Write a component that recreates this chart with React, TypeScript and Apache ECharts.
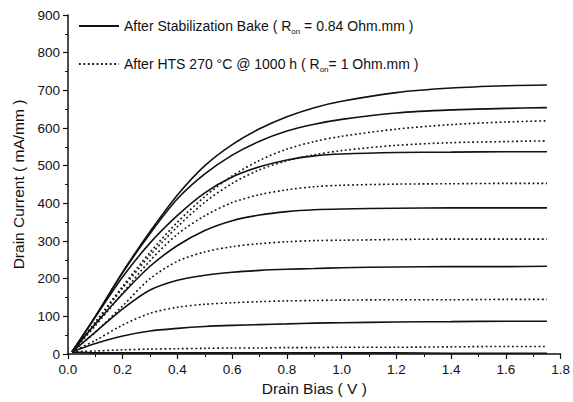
import React, { useEffect, useRef } from "react";
import * as echarts from "echarts";

const biasV = [0.015, 0.1, 0.2, 0.3, 0.4, 0.5, 0.6, 0.7, 0.8, 0.9, 1.0, 1.2, 1.4, 1.6, 1.75];

// After stabilization bake (solid)
const solid1 = [6, 100, 218, 325, 422, 500, 556, 598, 630, 654, 671, 694, 706, 712, 714];
const solid2 = [6, 100, 216, 320, 412, 478, 528, 565, 592, 610, 623, 640, 648, 652, 654];
const solid3 = [6, 98, 205, 295, 368, 428, 470, 497, 515, 526, 531, 535, 536, 537, 537];
const solid4 = [6, 80, 160, 233, 288, 328, 354, 369, 378, 383, 385, 387, 388, 388, 388];
const solid5 = [6, 58, 120, 170, 196, 209, 217, 222, 225, 227, 229, 231, 232, 232, 233];
const solid6 = [6, 28, 48, 61, 68, 73, 76, 78, 80, 82, 83, 85, 86, 87, 87];
const solid7 = [5, 3, 3, 3, 3, 3, 3, 3, 3, 3, 3, 3, 2, 2, 2];

// After HTS 270 °C @ 1000 h (dotted)
const dotted1 = [6, 85, 180, 270, 350, 418, 473, 514, 544, 564, 578, 597, 609, 616, 619];
const dotted2 = [6, 82, 175, 262, 338, 403, 453, 489, 513, 529, 540, 554, 561, 564, 566];
const dotted3 = [6, 75, 162, 248, 318, 367, 402, 423, 436, 444, 448, 451, 452, 453, 453];
const dotted4 = [6, 58, 128, 200, 246, 271, 285, 293, 298, 301, 302, 304, 305, 305, 305];
const dotted5 = [6, 36, 77, 108, 124, 132, 136, 139, 141, 142, 143, 144, 144, 145, 145];
const dotted6 = [6, 8, 11, 13, 14, 15, 16, 16, 17, 17, 18, 18, 19, 20, 20];

const solidSets = [solid1, solid2, solid3, solid4, solid5, solid6, solid7];
const dottedSets = [dotted1, dotted2, dotted3, dotted4, dotted5, dotted6];

const NAME_A = "After Stabilization Bake";
const NAME_B = "After HTS 270 °C @ 1000 h";

const FONT = "Liberation Sans";

export default function App() {
  const ref = useRef<HTMLDivElement>(null);
  useEffect(() => {
    if (!ref.current) return;
    const chart = echarts.init(ref.current, null, { renderer: "svg" });
    const mk = (vals: number[], name: string, dotted: boolean) => ({
      type: "line",
      name,
      data: biasV.map((x, i) => [x, vals[i]]),
      smooth: 0.3,
      symbol: "none",
      showSymbol: false,
      lineStyle: {
        color: "#111",
        width: 1.6,
        type: dotted ? [1.8, 2.6] : "solid",
      },
      itemStyle: { color: "#111" },
      z: 2,
    });
    const series: any[] = [
      ...solidSets.map((v) => mk(v, NAME_A, false)),
      ...dottedSets.map((v) => mk(v, NAME_B, true)),
    ];
    chart.setOption({
      animation: false,
      backgroundColor: "#fff",
      grid: { left: 68, right: 10, top: 15, bottom: 48, containLabel: false },
      legend: {
        orient: "vertical",
        left: 73,
        top: 12,
        itemWidth: 40,
        itemHeight: 14,
        itemGap: 20,
        selectedMode: false,
        itemStyle: { opacity: 0 },
        data: [NAME_A, NAME_B],
        formatter: (name: string) =>
          name === NAME_A
            ? "After Stabilization Bake ( R{sub|on} = 0.84 Ohm.mm )"
            : "After HTS 270 °C @ 1000 h ( R{sub|on}= 1 Ohm.mm )",
        textStyle: {
          fontFamily: FONT,
          fontSize: 14,
          color: "#111",
          lineHeight: 16,
          rich: {
            sub: {
              fontFamily: FONT,
              fontSize: 8,
              color: "#111",
              lineHeight: 18,
              verticalAlign: "bottom",
            },
          },
        },
      },
      xAxis: {
        type: "value",
        min: 0,
        max: 1.8,
        interval: 0.2,
        name: "Drain Bias ( V )",
        nameLocation: "middle",
        nameGap: 26,
        nameTextStyle: { fontFamily: FONT, fontSize: 15.5, color: "#111" },
        axisLine: { show: true, lineStyle: { color: "#111", width: 1.5 } },
        axisTick: { show: true, inside: false, length: 5, lineStyle: { color: "#111", width: 1.2 } },
        minorTick: { show: true, splitNumber: 2, length: 3, lineStyle: { color: "#111", width: 1 } },
        splitLine: { show: false },
        axisLabel: {
          fontFamily: FONT,
          fontSize: 13.5,
          color: "#111",
          margin: 8,
          formatter: (v: number) => v.toFixed(1),
        },
      },
      yAxis: {
        type: "value",
        min: 0,
        max: 900,
        interval: 100,
        name: "Drain Current ( mA/mm )",
        nameLocation: "middle",
        nameGap: 42,
        nameTextStyle: { fontFamily: FONT, fontSize: 15.5, color: "#111" },
        axisLine: { show: true, lineStyle: { color: "#111", width: 1.5 } },
        axisTick: { show: true, inside: false, length: 5, lineStyle: { color: "#111", width: 1.2 } },
        minorTick: { show: true, splitNumber: 2, length: 3, lineStyle: { color: "#111", width: 1 } },
        splitLine: { show: false },
        axisLabel: { fontFamily: FONT, fontSize: 13.5, color: "#111", margin: 8 },
      },
      series,
    });
    return () => chart.dispose();
  }, []);
  return <div ref={ref} style={{ width: 573, height: 402, position: "absolute", left: 0, top: 0 }} />;
}
